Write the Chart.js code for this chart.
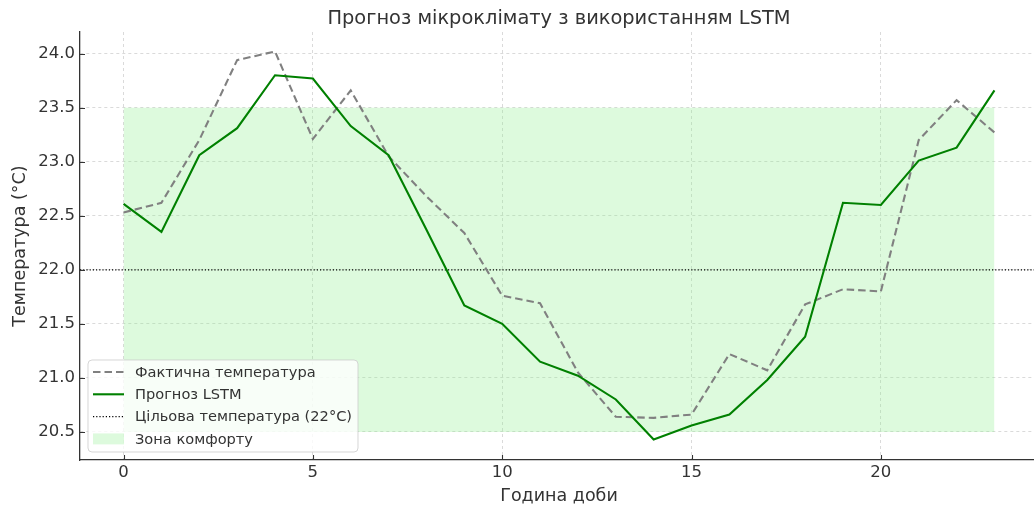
<!DOCTYPE html>
<html>
<head>
<meta charset="utf-8">
<script src="https://cdn.jsdelivr.net/npm/chart.js@4.4.0/dist/chart.umd.min.js"></script>
<style>
  html, body { margin: 0; padding: 0; background: #fff; overflow: hidden; }
  #wrap { width: 1034px; height: 506px; overflow: hidden; }
</style>
</head>
<body>
<div id="wrap"><canvas id="c" width="1038" height="506"></canvas></div>
<script>
const hours = [0,1,2,3,4,5,6,7,8,9,10,11,12,13,14,15,16,17,18,19,20,21,22,23];
const actualTemp = [22.53,22.62,23.20,23.94,24.02,23.21,23.66,23.05,22.68,22.34,21.76,21.69,21.05,20.64,20.63,20.66,21.22,21.07,21.68,21.82,21.80,23.20,23.57,23.27];
const lstmTemp = [22.61,22.35,23.06,23.31,23.80,23.77,23.33,23.06,22.37,21.67,21.50,21.15,21.02,20.80,20.43,20.56,20.66,20.98,21.38,22.62,22.60,23.01,23.13,23.66];
const targetTemp = 22;
const comfortLow = 20.5;
const comfortHigh = 23.5;
const xRange = [-1.15, 24.15];
const yRange = [20.24, 24.2];
const xTicks = [0,5,10,15,20];
const yTicks = [20.5,21.0,21.5,22.0,22.5,23.0,23.5,24.0];
const labels = ['Фактична температура','Прогноз LSTM','Цільова температура (22°C)','Зона комфорту'];
const chartTitle = 'Прогноз мікроклімату з використанням LSTM';

const FONT = "'DejaVu Sans', sans-serif";
const TXT = '#333333';
const AXIS = '#333333';

const pts = (xs, ys) => xs.map((x, i) => ({x: x, y: ys[i]}));

const titlePlugin = {
  id: 'mplTitle',
  afterDraw(chart) {
    const ctx = chart.ctx, ca = chart.chartArea;
    ctx.save();
    ctx.font = "19.4px " + FONT;
    ctx.fillStyle = TXT;
    ctx.textAlign = 'center';
    ctx.textBaseline = 'alphabetic';
    ctx.fillText(chartTitle, (ca.left + ca.right) / 2, 24);
    ctx.restore();
  }
};

const inwardTicks = {
  id: 'inwardTicks',
  afterDraw(chart) {
    const ctx = chart.ctx, ca = chart.chartArea;
    const xs = chart.scales.x, ys = chart.scales.y;
    ctx.save();
    ctx.strokeStyle = AXIS;
    ctx.lineWidth = 1.1;
    ctx.beginPath();
    xTicks.forEach(v => {
      const p = Math.round(xs.getPixelForValue(v)) + 0.5;
      ctx.moveTo(p, ca.bottom);
      ctx.lineTo(p, ca.bottom - 5);
    });
    yTicks.forEach(v => {
      const p = Math.round(ys.getPixelForValue(v)) + 0.5;
      ctx.moveTo(ca.left, p);
      ctx.lineTo(ca.left + 5, p);
    });
    ctx.stroke();
    ctx.restore();
  }
};

const legendPlugin = {
  id: 'mplLegend',
  afterDraw(chart) {
    const ctx = chart.ctx;
    const ca = chart.chartArea;
    const x0 = ca.left + 8, w = 270, h = 92;
    const y0 = ca.bottom - 8 - h;
    ctx.save();
    const r = 4;
    ctx.beginPath();
    ctx.moveTo(x0 + r, y0);
    ctx.lineTo(x0 + w - r, y0);
    ctx.quadraticCurveTo(x0 + w, y0, x0 + w, y0 + r);
    ctx.lineTo(x0 + w, y0 + h - r);
    ctx.quadraticCurveTo(x0 + w, y0 + h, x0 + w - r, y0 + h);
    ctx.lineTo(x0 + r, y0 + h);
    ctx.quadraticCurveTo(x0, y0 + h, x0, y0 + h - r);
    ctx.lineTo(x0, y0 + r);
    ctx.quadraticCurveTo(x0, y0, x0 + r, y0);
    ctx.closePath();
    ctx.fillStyle = 'rgba(255,255,255,0.8)';
    ctx.fill();
    ctx.strokeStyle = 'rgba(204,204,204,0.8)';
    ctx.lineWidth = 1;
    ctx.stroke();
    const ds = chart.data.datasets;
    const rowH = 22.3;
    const sx = x0 + 5, sw = 31;
    ctx.font = "14.6px " + FONT;
    ctx.textBaseline = 'middle';
    ctx.textAlign = 'left';
    labels.forEach((lab, i) => {
      const cy = y0 + 12 + i * rowH;
      const d = ds[i];
      if (i === 3) {
        ctx.fillStyle = d.backgroundColor;
        ctx.fillRect(sx, cy - 5.5, sw, 11);
      } else {
        ctx.beginPath();
        ctx.setLineDash(d.borderDash || []);
        ctx.strokeStyle = d.borderColor;
        ctx.lineWidth = d.borderWidth;
        ctx.moveTo(sx, cy);
        ctx.lineTo(sx + sw, cy);
        ctx.stroke();
        ctx.setLineDash([]);
      }
      ctx.fillStyle = TXT;
      ctx.fillText(lab, x0 + 47, cy + 1);
    });
    ctx.restore();
  }
};

new Chart(document.getElementById('c'), {
  type: 'line',
  data: {
    datasets: [
      {
        label: labels[0],
        data: pts(hours, actualTemp),
        borderColor: '#808080',
        borderWidth: 2.1,
        borderDash: [7.5, 4],
        pointRadius: 0,
        fill: false,
        tension: 0,
        order: 1
      },
      {
        label: labels[1],
        data: pts(hours, lstmTemp),
        borderColor: '#008000',
        borderWidth: 2.1,
        pointRadius: 0,
        fill: false,
        tension: 0,
        order: 0
      },
      {
        label: labels[2],
        data: pts(xRange, [targetTemp, targetTemp]),
        borderColor: '#000000',
        borderWidth: 1.2,
        borderDash: [1.2, 2],
        pointRadius: 0,
        fill: false,
        order: 2
      },
      {
        label: labels[3],
        data: pts([hours[0], hours[hours.length - 1]], [comfortHigh, comfortHigh]),
        borderWidth: 0,
        borderColor: 'rgba(0,0,0,0)',
        backgroundColor: 'rgba(144,238,144,0.3)',
        pointRadius: 0,
        fill: {value: comfortLow},
        order: 3
      }
    ]
  },
  options: {
    responsive: false,
    animation: false,
    devicePixelRatio: 1,
    layout: { padding: { left: 0, right: 0, top: 32, bottom: 0 } },
    plugins: {
      legend: { display: false },
      tooltip: { enabled: false },
      title: { display: false },
      filler: { propagate: false }
    },
    scales: {
      x: {
        type: 'linear',
        min: xRange[0],
        max: xRange[1],
        afterBuildTicks: (s) => { s.ticks = xTicks.map(v => ({value: v})); },
        afterFit: (s) => { s.height = 46; },
        ticks: {
          color: TXT,
          font: { family: FONT, size: 16.5 },
          padding: 3,
          maxRotation: 0,
          autoSkip: false,
          callback: (v) => String(v)
        },
        grid: {
          color: 'rgba(176,176,176,0.6)',
          lineWidth: 0.8,
          drawTicks: false
        },
        border: { display: true, color: AXIS, width: 1.3, dash: [3, 3] },
        title: {
          display: true,
          text: 'Година доби',
          color: TXT,
          font: { family: FONT, size: 17.5 },
          padding: { top: 0, bottom: -1 }
        }
      },
      y: {
        type: 'linear',
        min: yRange[0],
        max: yRange[1],
        afterBuildTicks: (s) => { s.ticks = yTicks.map(v => ({value: v})); },
        afterFit: (s) => { s.width = 80; },
        ticks: {
          color: TXT,
          font: { family: FONT, size: 16.5 },
          padding: 5,
          callback: (v) => Number(v).toFixed(1)
        },
        grid: {
          color: 'rgba(176,176,176,0.6)',
          lineWidth: 0.8,
          drawTicks: false
        },
        border: { display: true, color: AXIS, width: 1.3, dash: [3, 3] },
        title: {
          display: true,
          text: 'Температура (°C)',
          color: TXT,
          font: { family: FONT, size: 17.5 },
          padding: { top: 9.5, bottom: 0 }
        }
      }
    }
  },
  plugins: [titlePlugin, inwardTicks, legendPlugin]
});
</script>
</body>
</html>
